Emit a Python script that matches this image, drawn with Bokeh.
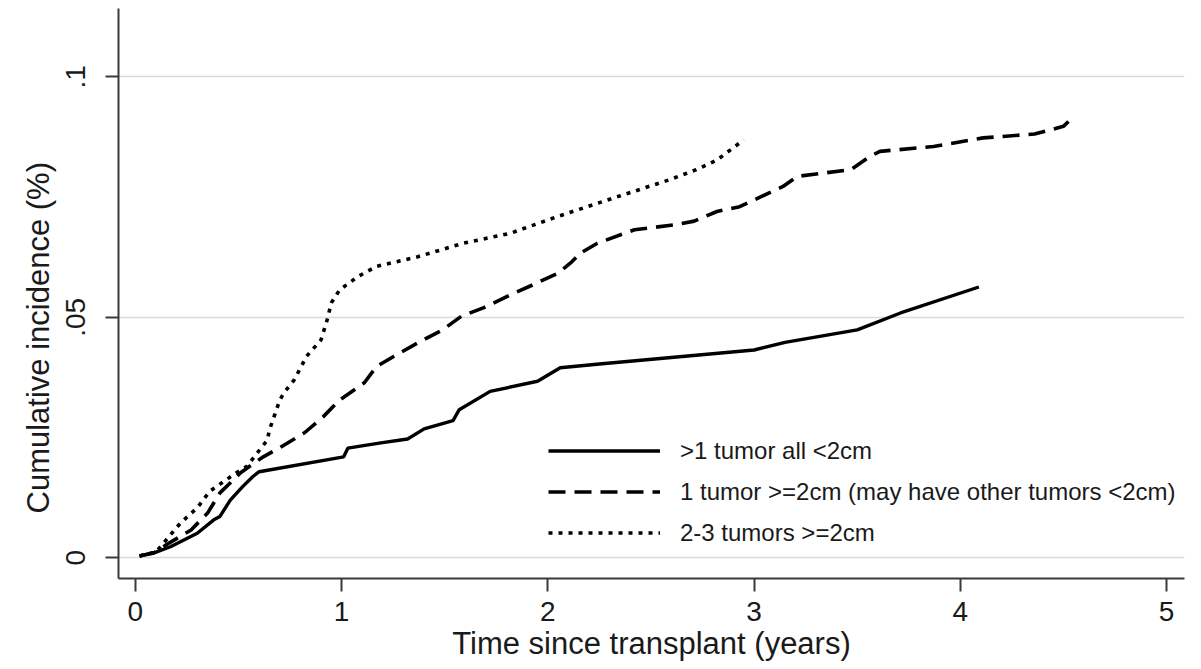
from bokeh.plotting import figure
from bokeh.models import Range1d, FixedTicker, Legend, LegendItem, Title
from bokeh.embed import file_html
from bokeh.resources import INLINE

# ---- data ----
series_names = [">1 tumor all <2cm",
                "1 tumor >=2cm (may have other tumors <2cm)",
                "2-3 tumors >=2cm"]

t_small = [0.02, 0.10, 0.17, 0.30, 0.38, 0.41, 0.46, 0.52, 0.57, 0.60, 1.01, 1.03,
           1.19, 1.32, 1.40, 1.54, 1.57, 1.72, 1.95, 2.06, 2.25, 3.00, 3.15, 3.50,
           3.71, 4.09]
ci_small = [0.0004, 0.0012, 0.0023, 0.0051, 0.0079, 0.0086, 0.0120, 0.0148, 0.0169,
            0.0179, 0.0210, 0.0228, 0.0239, 0.0247, 0.0268, 0.0285, 0.0308, 0.0346,
            0.0367, 0.0395, 0.0403, 0.0432, 0.0448, 0.0474, 0.0509, 0.0563]

t_one = [0.02, 0.09, 0.15, 0.27, 0.35, 0.41, 0.51, 0.62, 0.70, 0.82, 0.91, 0.99,
         1.11, 1.17, 1.25, 1.37, 1.49, 1.58, 1.69, 1.82, 1.93, 2.05, 2.11, 2.16,
         2.24, 2.42, 2.61, 2.71, 2.82, 2.93, 3.14, 3.21, 3.47, 3.56, 3.61, 3.87,
         4.11, 4.36, 4.50, 4.55]
ci_one = [0.0004, 0.0010, 0.0027, 0.0058, 0.0093, 0.0135, 0.0177, 0.0210, 0.0229,
          0.0260, 0.0293, 0.0328, 0.0364, 0.0398, 0.0418, 0.0447, 0.0474, 0.0502,
          0.0520, 0.0547, 0.0568, 0.0592, 0.0613, 0.0634, 0.0654, 0.0682, 0.0692,
          0.0700, 0.0720, 0.0730, 0.0772, 0.0793, 0.0807, 0.0834, 0.0845, 0.0855,
          0.0873, 0.0881, 0.0897, 0.0918]

t_multi = [0.02, 0.10, 0.19, 0.22, 0.30, 0.36, 0.49, 0.54, 0.64, 0.65, 0.70, 0.72,
           0.77, 0.83, 0.90, 0.93, 0.95, 0.99, 1.08, 1.17, 1.37, 1.59, 1.82, 2.05,
           2.34, 2.59, 2.72, 2.82, 2.95]
ci_multi = [0.0004, 0.0012, 0.0058, 0.0073, 0.0104, 0.0138, 0.0177, 0.0190, 0.0245,
            0.0266, 0.0328, 0.0343, 0.0370, 0.0419, 0.0453, 0.0495, 0.0530, 0.0557,
            0.0585, 0.0606, 0.0626, 0.0654, 0.0675, 0.0710, 0.0751, 0.0786, 0.0807,
            0.0827, 0.0869]

x_ticks = [0, 1, 2, 3, 4, 5]
y_ticks = [0, 0.05, 0.1]
y_tick_labels = ["0", ".05", ".1"]
x_title = "Time since transplant (years)"
y_title = "Cumulative incidence (%)"

FONT = "Liberation Sans"
TXT = "#1a1a1a"
AX = "#3a3a3a"

p = figure(width=1201, height=669, output_backend="svg", toolbar_location=None,
           x_range=Range1d(-0.082, 5.087), y_range=Range1d(-0.0043, 0.1142),
           min_border_left=118, min_border_right=17, min_border_top=8,
           min_border_bottom=91)
p.outline_line_color = None
p.background_fill_color = "white"
p.border_fill_color = "white"

p.xgrid.grid_line_color = None
p.ygrid.grid_line_color = "#dadada"
p.ygrid.grid_line_width = 1.5
p.ygrid.ticker = FixedTicker(ticks=y_ticks)

p.xaxis.ticker = FixedTicker(ticks=x_ticks)
p.yaxis.ticker = FixedTicker(ticks=y_ticks)
p.yaxis.major_label_overrides = {v: s for v, s in zip(y_ticks, y_tick_labels)}
p.yaxis.major_label_orientation = "vertical"

for ax in (p.xaxis, p.yaxis):
    ax.axis_line_color = AX
    ax.axis_line_width = 2
    ax.major_tick_line_color = AX
    ax.major_tick_line_width = 2
    ax.major_tick_out = 13
    ax.major_tick_in = 0
    ax.minor_tick_line_color = None
    ax.major_label_text_font = FONT
    ax.major_label_text_font_size = "28px"
    ax.major_label_text_color = TXT
    ax.axis_label_text_font = FONT
    ax.axis_label_text_font_size = "31px"
    ax.axis_label_text_font_style = "normal"
    ax.axis_label_text_color = TXT

p.xaxis.axis_label = x_title
p.xaxis.major_label_standoff = 10
p.xaxis.axis_label_standoff = 2
p.yaxis.major_label_standoff = 20

# y-axis title: sits lower than the frame centre in the reference
ytitle = Title(text=y_title, align="left", offset=65, standoff=16,
               text_font=FONT, text_font_size="31px", text_font_style="normal",
               text_color=TXT, vertical_align="bottom")
p.add_layout(ytitle, "left")

r1 = p.line(t_small, ci_small, line_color="black", line_width=3.4)
r2 = p.line(t_one, ci_one, line_color="black", line_width=3.6, line_dash="17 9")
r3 = p.line(t_multi, ci_multi, line_color="black", line_width=3.6, line_dash="4 6")

legend = Legend(items=[LegendItem(label=series_names[0], renderers=[r1]),
                       LegendItem(label=series_names[1], renderers=[r2]),
                       LegendItem(label=series_names[2], renderers=[r3])],
                location=(430, 27))
legend.border_line_color = None
legend.background_fill_alpha = 0
legend.padding = 0
legend.margin = 0
legend.spacing = 4
legend.glyph_width = 112
legend.glyph_height = 37
legend.label_standoff = 20
legend.label_text_font = FONT
legend.label_text_font_size = "24px"
legend.label_text_color = TXT
legend.label_height = 37
p.add_layout(legend, "center")

open("out.html", "w").write(file_html(p, INLINE))
